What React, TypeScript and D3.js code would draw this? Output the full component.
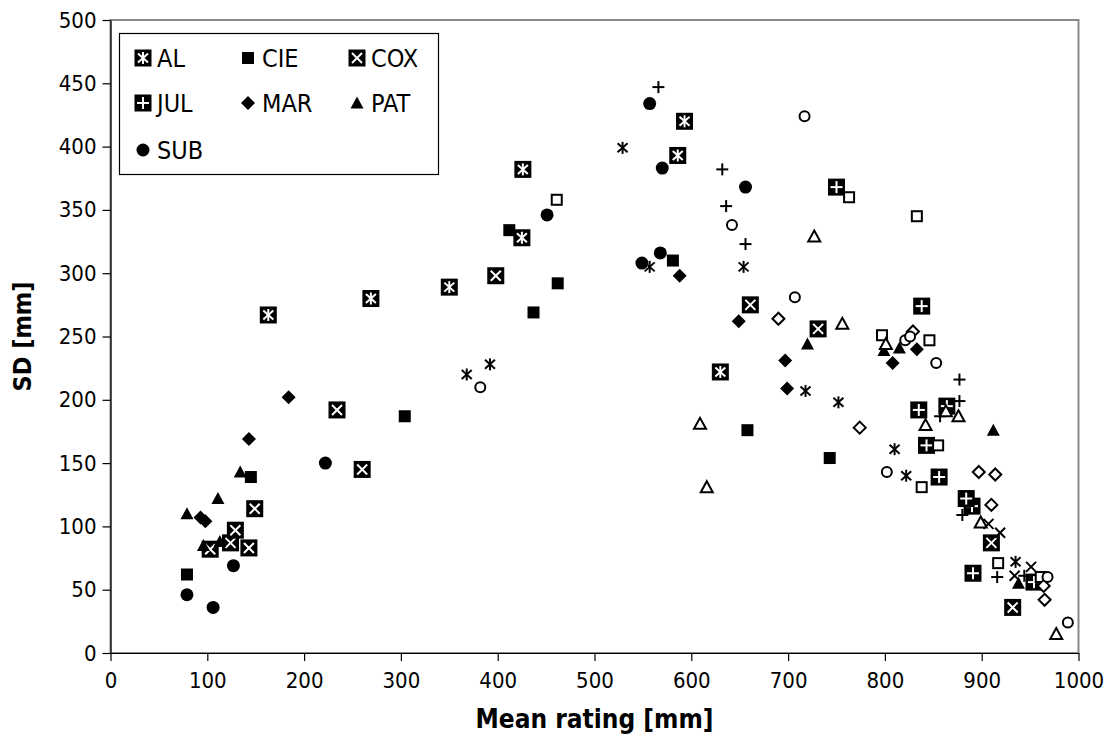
import React, { useEffect, useRef } from 'react';
import * as d3 from 'd3';

type Pt = [number, number];

// filled series (shown in legend)
const AL: Pt[] = [[163, 267], [269, 280], [350, 289], [425, 328], [426, 382], [586, 393], [593, 420], [630, 222]];
const CIE: Pt[] = [[79, 62], [145, 139], [304, 187], [412, 334], [437, 269], [462, 292], [581, 310], [658, 176], [743, 154]];
const COX: Pt[] = [[103, 82], [124, 87], [129, 97], [143, 83], [149, 114], [234, 192], [260, 145], [398, 298], [661, 275], [731, 256], [910, 87], [932, 36]];
const JUL: Pt[] = [[750, 368], [838, 274], [864, 195], [835, 192], [843, 164], [856, 139], [890, 116], [884, 122], [891, 63], [954, 56]];
const MAR: Pt[] = [[93, 107], [98, 104], [143, 169], [184, 202], [588, 298], [649, 262], [697, 231], [699, 209], [808, 229], [833, 240]];
const PAT: Pt[] = [[79, 110], [96, 85], [111, 122], [113, 88], [134, 143], [720, 244], [799, 239], [815, 241], [912, 176], [938, 55]];
const SUB: Pt[] = [[79, 46], [106, 36], [127, 69], [222, 150], [451, 346], [549, 308], [557, 434], [568, 316], [570, 383], [656, 368]];

// open series (no legend entry)
const AL2: Pt[] = [[368, 220], [392, 228], [529, 399], [557, 305], [654, 305], [718, 207], [752, 198], [810, 161], [822, 140], [935, 72]];
const CIE2: Pt[] = [[461, 358], [763, 360], [833, 345], [797, 251], [846, 247], [855, 164], [838, 131], [917, 71], [961, 60]];
const COX2: Pt[] = [[907, 102], [919, 95], [951, 68], [934, 61]];
const JUL2: Pt[] = [[566, 447], [632, 382], [636, 353], [656, 323], [877, 216], [877, 199], [857, 187], [880, 109], [916, 60], [944, 61]];
const MAR2: Pt[] = [[690, 264], [829, 254], [774, 178], [897, 143], [914, 141], [910, 117], [964, 53], [965, 42]];
const PAT2: Pt[] = [[609, 181], [616, 131], [727, 329], [756, 260], [801, 244], [842, 180], [863, 191], [876, 187], [899, 103], [977, 15]];
const SUB2: Pt[] = [[382, 210], [642, 338], [707, 281], [717, 424], [802, 143], [821, 247], [826, 250], [853, 229], [968, 60], [989, 24]];

const xTicks = [0, 100, 200, 300, 400, 500, 600, 700, 800, 900, 1000];
const yTicks = [0, 50, 100, 150, 200, 250, 300, 350, 400, 450, 500];

const series = [
  { name: 'AL', kind: 'boxStar', data: AL },
  { name: 'CIE', kind: 'square', data: CIE },
  { name: 'COX', kind: 'boxX', data: COX },
  { name: 'JUL', kind: 'boxPlus', data: JUL },
  { name: 'MAR', kind: 'diamond', data: MAR },
  { name: 'PAT', kind: 'triangle', data: PAT },
  { name: 'SUB', kind: 'circle', data: SUB },
];

const openSeries = [
  { kind: 'star', data: AL2 },
  { kind: 'openSquare', data: CIE2 },
  { kind: 'x', data: COX2 },
  { kind: 'plus', data: JUL2 },
  { kind: 'openDiamond', data: MAR2 },
  { kind: 'openTriangle', data: PAT2 },
  { kind: 'openCircle', data: SUB2 },
];

const FONT = "'DejaVu Sans Condensed', 'DejaVu Sans', sans-serif";

const drawMarker = (parent: any, kind: string, x: number, y: number) => {
  const g = parent.append('g').attr('transform', `translate(${x},${y})`);
  const line = (x1: number, y1: number, x2: number, y2: number, col: string) =>
    g.append('line').attr('x1', x1).attr('y1', y1).attr('x2', x2).attr('y2', y2)
      .attr('stroke', col).attr('stroke-width', 2);
  const star = (col: string) => {
    line(0, -6, 0, 6, col);
    line(-5, -4.5, 5, 4.5, col);
    line(-5, 4.5, 5, -4.5, col);
  };
  const cross = (col: string) => {
    line(-5, -5, 5, 5, col);
    line(-5, 5, 5, -5, col);
  };
  const plus = (col: string) => {
    line(-6, 0, 6, 0, col);
    line(0, -6, 0, 6, col);
  };
  const box = () => g.append('rect').attr('x', -8.5).attr('y', -8.5).attr('width', 17).attr('height', 17).attr('fill', '#000');
  switch (kind) {
    case 'boxStar': box(); star('#fff'); break;
    case 'boxX': box(); cross('#fff'); break;
    case 'boxPlus': box(); plus('#fff'); break;
    case 'square':
      g.append('rect').attr('x', -6).attr('y', -6).attr('width', 12).attr('height', 12).attr('fill', '#000');
      break;
    case 'diamond':
      g.append('path').attr('d', 'M0,-7L7,0L0,7L-7,0Z').attr('fill', '#000');
      break;
    case 'triangle':
      g.append('path').attr('d', 'M0,-6.5L6.5,5.5L-6.5,5.5Z').attr('fill', '#000');
      break;
    case 'circle':
      g.append('circle').attr('r', 6.5).attr('fill', '#000');
      break;
    case 'star': star('#000'); break;
    case 'x': cross('#000'); break;
    case 'plus': plus('#000'); break;
    case 'openSquare':
      g.append('rect').attr('x', -5).attr('y', -5).attr('width', 10).attr('height', 10)
        .attr('fill', '#fff').attr('stroke', '#000').attr('stroke-width', 2);
      break;
    case 'openDiamond':
      g.append('path').attr('d', 'M0,-6L6,0L0,6L-6,0Z')
        .attr('fill', '#fff').attr('stroke', '#000').attr('stroke-width', 2);
      break;
    case 'openTriangle':
      g.append('path').attr('d', 'M0,-6L6,5L-6,5Z')
        .attr('fill', '#fff').attr('stroke', '#000').attr('stroke-width', 2);
      break;
    case 'openCircle':
      g.append('circle').attr('r', 5)
        .attr('fill', '#fff').attr('stroke', '#000').attr('stroke-width', 2);
      break;
  }
};

const ScatterChart = () => {
  const ref = useRef<SVGSVGElement>(null);

  useEffect(() => {
    if (!ref.current) return;
    const svg = d3.select(ref.current);
    svg.selectAll('*').remove();

    const x = d3.scaleLinear().domain([0, 1000]).range([110.5, 1078.5]);
    const y = d3.scaleLinear().domain([0, 500]).range([653, 20]);

    // plot area border
    svg.append('rect')
      .attr('x', x(0)).attr('y', y(500))
      .attr('width', x(1000) - x(0)).attr('height', y(0) - y(500))
      .attr('fill', 'none').attr('stroke', '#888').attr('stroke-width', 2);

    // axes
    const xAxis = svg.append('g')
      .attr('transform', `translate(0,${y(0)})`)
      .call(d3.axisBottom(x).tickValues(xTicks).tickFormat(d3.format('d')).tickSize(8).tickSizeOuter(0).tickPadding(11));
    const yAxis = svg.append('g')
      .attr('transform', `translate(${x(0)},0)`)
      .call(d3.axisLeft(y).tickValues(yTicks).tickFormat(d3.format('d')).tickSize(8).tickSizeOuter(0).tickPadding(6));

    [xAxis, yAxis].forEach(a => {
      a.selectAll('path,line').attr('stroke', '#000').attr('stroke-width', 1.2);
      a.selectAll('text')
        .attr('fill', '#000')
        .style('font-family', FONT)
        .style('font-stretch', 'condensed')
        .style('font-size', '22px');
    });

    // axis titles
    svg.append('text')
      .attr('x', x(500)).attr('y', 728)
      .attr('text-anchor', 'middle')
      .style('font-family', FONT).style('font-stretch', 'condensed')
      .style('font-size', '26px').style('font-weight', 'bold')
      .text('Mean rating [mm]');
    svg.append('text')
      .attr('transform', `translate(31,${(y(0) + y(500)) / 2}) rotate(-90)`)
      .attr('text-anchor', 'middle')
      .style('font-family', FONT).style('font-stretch', 'condensed')
      .style('font-size', '25px').style('font-weight', 'bold')
      .text('SD [mm]');

    // points
    const pts = svg.append('g');
    series.forEach(s => s.data.forEach(d => drawMarker(pts, s.kind, x(d[0]), y(d[1]))));
    openSeries.forEach(s => s.data.forEach(d => drawMarker(pts, s.kind, x(d[0]), y(d[1]))));

    // legend
    const legend = svg.append('g');
    legend.append('rect')
      .attr('x', 119.5).attr('y', 33.5).attr('width', 319).attr('height', 141)
      .attr('fill', '#fff').attr('stroke', '#000').attr('stroke-width', 1.2);
    const colX = [143, 248, 357];
    const rowY = [58, 103, 150];
    series.forEach((s, i) => {
      const lx = colX[i % 3];
      const ly = rowY[Math.floor(i / 3)];
      drawMarker(legend, s.kind, lx, ly);
      legend.append('text')
        .attr('x', lx + 14).attr('y', ly + 9)
        .style('font-family', FONT).style('font-stretch', 'condensed')
        .style('font-size', '25px')
        .text(s.name);
    });
  }, []);

  return (
    <div style={{ position: 'absolute', left: 0, top: 0 }}>
      <svg ref={ref} width={1111} height={753} style={{ display: 'block', background: '#fff' }} />
    </div>
  );
};

export default ScatterChart;
